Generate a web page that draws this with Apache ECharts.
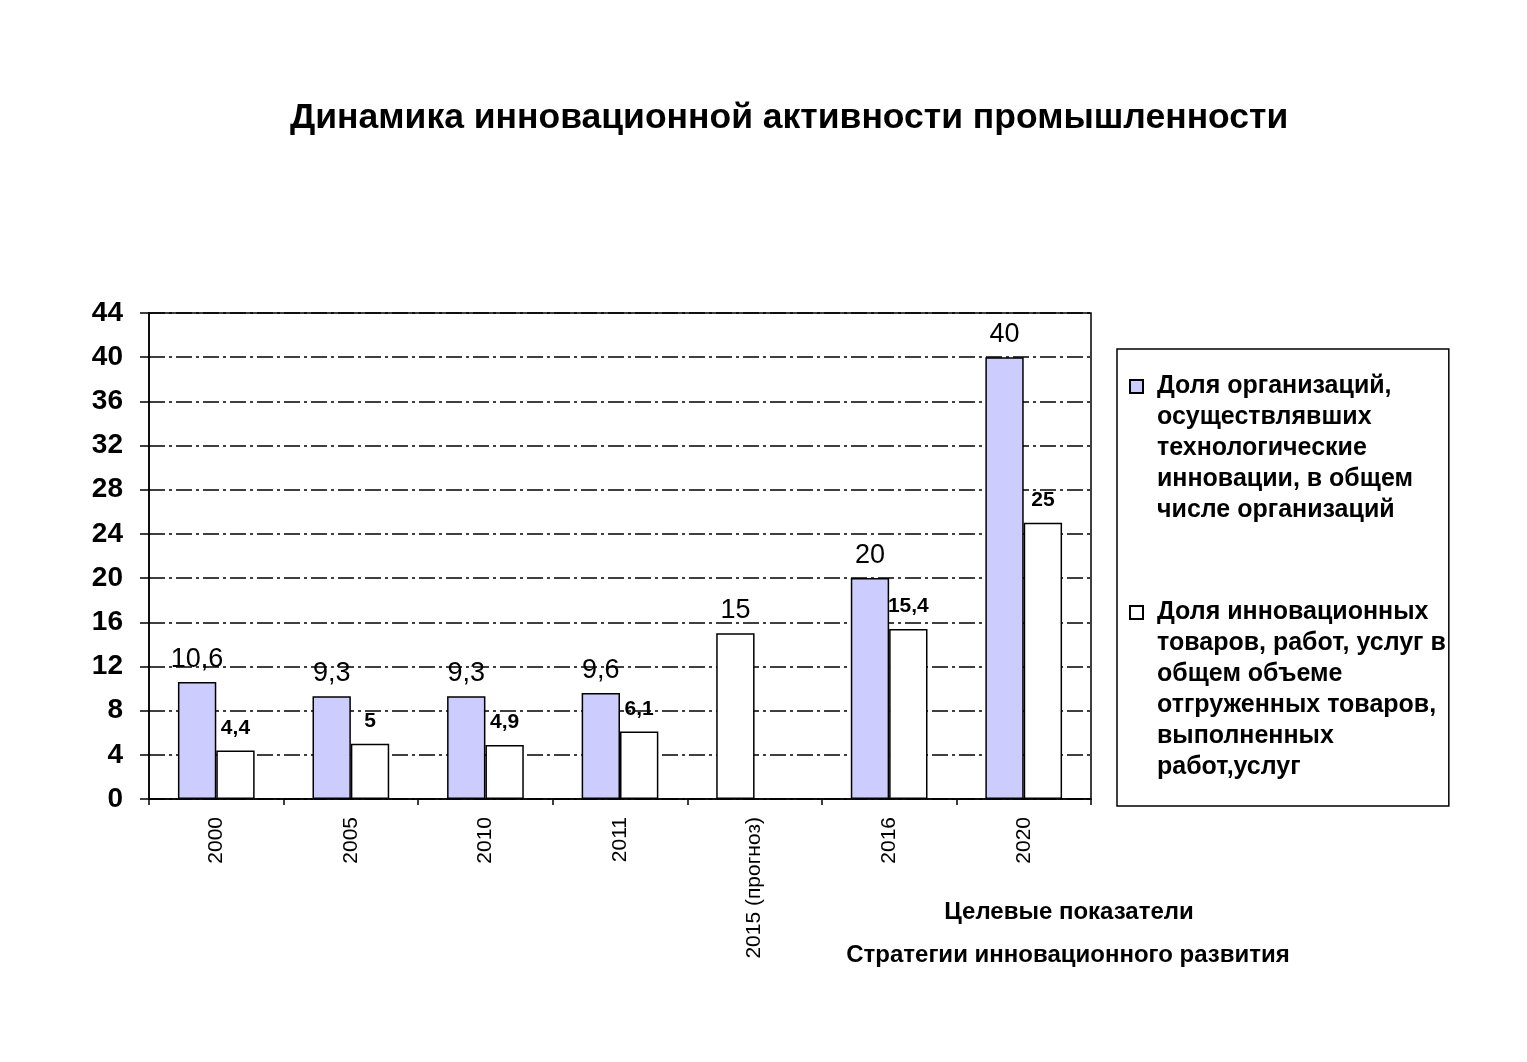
<!DOCTYPE html>
<html>
<head>
<meta charset="utf-8">
<script src="https://cdn.jsdelivr.net/npm/echarts@6/dist/echarts.min.js"></script>
<style>
html,body{margin:0;padding:0;background:#fff;}
#chart{width:1527px;height:1062px;}
</style>
</head>
<body>
<div id="chart"></div>
<script>
var titleText = 'Динамика инновационной активности промышленности';
var categories = ['2000', '2005', '2010', '2011', '2015 (прогноз)', '2016', '2020'];
var seriesNames = [
  'Доля организаций,\nосуществлявших\nтехнологические\nинновации, в общем\nчисле организаций\n ',
  'Доля инновационных\nтоваров, работ, услуг в\nобщем объеме\nотгруженных товаров,\nвыполненных\nработ,услуг'
];
var orgShare = [10.6, 9.3, 9.3, 9.6, 15, 20, 40];
var goodsShare = [4.4, 5, 4.9, 6.1, null, 15.4, 25];
var whiteInFirst = [4]; // index of the forecast bar drawn white
var yTicks = {min: 0, max: 44, interval: 4};
var noteLines = ['Целевые показатели', 'Стратегии инновационного развития'];

var FONT = '"Liberation Sans", Arial, sans-serif';
var PURPLE = '#CCCCFF';
function fmt(p){ return String(p.value).replace('.', ','); }

var iconPath = 'path://M0,0 L0.001,0 M22,186 L22.001,186 M0,9 L13,9 L13,22 L0,22 Z';

var firstData = orgShare.map(function(v, i){
  if (whiteInFirst.indexOf(i) >= 0) return {value: v, itemStyle: {color: '#fff'}};
  return v;
});

var chart = echarts.init(document.getElementById('chart'), null, {renderer: 'canvas'});
chart.setOption({
  backgroundColor: '#fff',
  animation: false,
  title: [
    {text: titleText, left: 285, top: 95,
     textStyle: {fontFamily: FONT, fontSize: 35.5, fontWeight: 'bold', color: '#000'}},
    {text: noteLines[0], left: 1064, top: 895, textAlign: 'center',
     textStyle: {fontFamily: FONT, fontSize: 24, fontWeight: 'bold', color: '#000'}},
    {text: noteLines[1], left: 1063, top: 938, textAlign: 'center',
     textStyle: {fontFamily: FONT, fontSize: 24, fontWeight: 'bold', color: '#000'}}
  ],
  legend: {
    orient: 'vertical',
    left: 1117, top: 349,
    padding: [21, 3, 22, 12],
    itemGap: 38,
    itemWidth: 22, itemHeight: 186,
    borderColor: '#000', borderWidth: 1.5,
    backgroundColor: '#fff',
    selectedMode: false,
    data: [
      {name: seriesNames[0], icon: iconPath},
      {name: seriesNames[1], icon: iconPath}
    ],
    textStyle: {fontFamily: FONT, fontSize: 25, fontWeight: 'bold', color: '#000', lineHeight: 31}
  },
  grid: {left: 149, right: 436, top: 313, bottom: 263, show: true,
         borderColor: '#000', borderWidth: 1.5, backgroundColor: 'transparent'},
  xAxis: {
    type: 'category',
    data: categories,
    axisLine: {lineStyle: {color: '#000', width: 1.5}},
    axisTick: {show: true, length: 6, lineStyle: {color: '#000', width: 1.5}},
    axisLabel: {rotate: 90, margin: 18, fontFamily: FONT, fontSize: 21, color: '#000'},
    splitLine: {show: false}
  },
  yAxis: {
    type: 'value',
    min: yTicks.min, max: yTicks.max, interval: yTicks.interval,
    axisLine: {show: true, lineStyle: {color: '#000', width: 1.5}},
    axisTick: {show: true, length: 9, lineStyle: {color: '#000', width: 1.5}},
    axisLabel: {margin: 26, fontFamily: FONT, fontSize: 28, fontWeight: 'bold', color: '#000'},
    splitLine: {show: true, lineStyle: {color: '#000', width: 1.5, type: [16, 4, 3, 4]}}
  },
  series: [
    {
      name: seriesNames[0], type: 'bar', data: firstData,
      barGap: '0%', barCategoryGap: '43%',
      itemStyle: {color: PURPLE, borderColor: '#000', borderWidth: 1.5},
      label: {show: true, position: 'top', distance: 9, formatter: fmt,
              fontFamily: FONT, fontSize: 27, color: '#000'}
    },
    {
      name: seriesNames[1], type: 'bar', data: goodsShare,
      barGap: '0%', barCategoryGap: '43%',
      itemStyle: {color: '#fff', borderColor: '#000', borderWidth: 1.5},
      label: {show: true, position: 'top', distance: 12, formatter: fmt,
              fontFamily: FONT, fontSize: 21, fontWeight: 'bold', color: '#000'}
    }
  ]
});
</script>
</body>
</html>
